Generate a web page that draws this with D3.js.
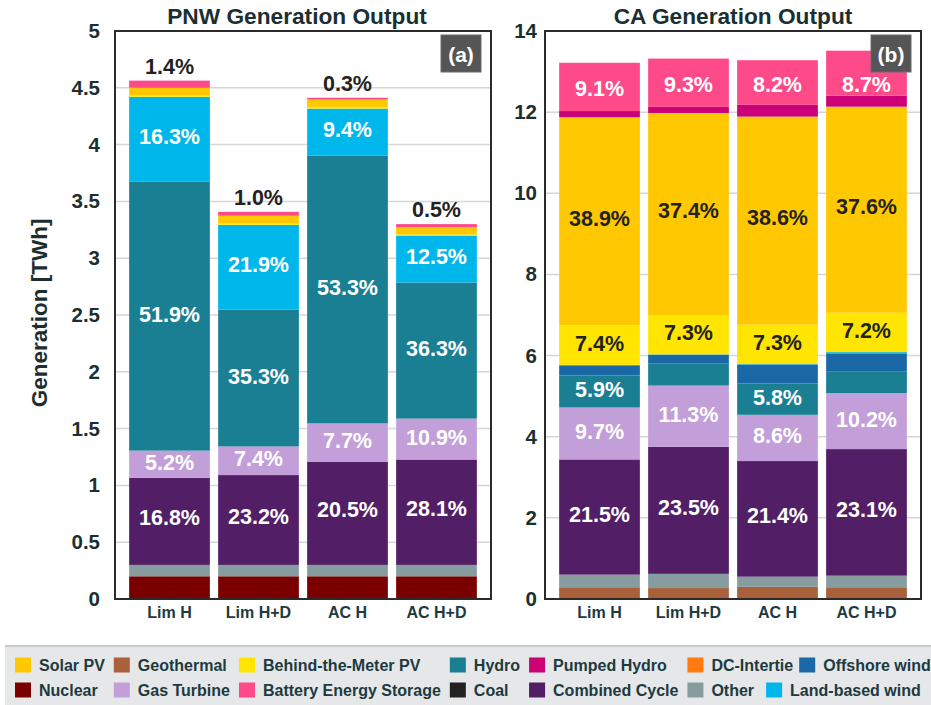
<!DOCTYPE html>
<html><head><meta charset="utf-8">
<script src="https://cdn.jsdelivr.net/npm/d3@7"></script>
<style>
html,body{margin:0;padding:0;background:#fff;}
svg{display:block;font-family:"Liberation Sans",Arial,sans-serif;}
</style></head>
<body>
<svg id="chart" width="931" height="705"></svg>
<script>
// ---------------- DATA ----------------
const categories = ["Lim H", "Lim H+D", "AC H", "AC H+D"];
const seriesNames = ["Nuclear","Geothermal","Other","Coal","Combined Cycle","Gas Turbine","Hydro","DC-Intertie","Offshore wind","Land-based wind","Behind-the-Meter PV","Solar PV","Pumped Hydro","Battery Energy Storage"];

// PNW generation [TWh]
const pnwNuclear        = [0.20, 0.20, 0.20, 0.20];
const pnwOther          = [0.10, 0.10, 0.10, 0.10];
const pnwCombinedCycle  = [0.768, 0.791, 0.906, 0.928];
const pnwGasTurbine     = [0.238, 0.252, 0.340, 0.360];
const pnwHydro          = [2.370, 1.204, 2.356, 1.198];
const pnwLandWind       = [0.745, 0.747, 0.415, 0.413];
const pnwBehindMeterPV  = [0.010, 0.010, 0.010, 0.010];
const pnwSolarPV        = [0.070, 0.070, 0.070, 0.065];
const pnwBattery        = [0.062, 0.034, 0.015, 0.026];

// CA generation [TWh]
const caGeothermal      = [0.29, 0.27, 0.30, 0.29];
const caOther           = [0.31, 0.35, 0.25, 0.285];
const caCombinedCycle   = [2.84, 3.13, 2.85, 3.12];
const caGasTurbine      = [1.28, 1.51, 1.14, 1.38];
const caHydro           = [0.79, 0.54, 0.77, 0.54];
const caOffshoreWind    = [0.25, 0.22, 0.47, 0.44];
const caLandWind        = [0.01, 0.01, 0.01, 0.03];
const caBehindMeterPV   = [0.977, 0.97, 0.97, 0.97];
const caSolarPV         = [5.13, 4.98, 5.13, 5.08];
const caPumpedHydro     = [0.15, 0.15, 0.29, 0.27];
const caBattery         = [1.19, 1.19, 1.10, 1.11];

// Percentage labels
const pnwLabelCombinedCycle = ["16.8%", "23.2%", "20.5%", "28.1%"];
const pnwLabelGasTurbine    = ["5.2%", "7.4%", "7.7%", "10.9%"];
const pnwLabelHydro         = ["51.9%", "35.3%", "53.3%", "36.3%"];
const pnwLabelLandWind      = ["16.3%", "21.9%", "9.4%", "12.5%"];
const pnwLabelBattery       = ["1.4%", "1.0%", "0.3%", "0.5%"];

const caLabelCombinedCycle  = ["21.5%", "23.5%", "21.4%", "23.1%"];
const caLabelGasTurbine     = ["9.7%", "11.3%", "8.6%", "10.2%"];
const caLabelHydro          = ["5.9%", "", "5.8%", ""];
const caLabelBehindMeterPV  = ["7.4%", "7.3%", "7.3%", "7.2%"];
const caLabelSolarPV        = ["38.9%", "37.4%", "38.6%", "37.6%"];
const caLabelBattery        = ["9.1%", "9.3%", "8.2%", "8.7%"];

// Axis ticks
const pnwTicks = [0, 0.5, 1, 1.5, 2, 2.5, 3, 3.5, 4, 4.5, 5];
const pnwTickLabels = ["0", "0.5", "1", "1.5", "2", "2.5", "3", "3.5", "4", "4.5", "5"];
const caTicks = [0, 2, 4, 6, 8, 10, 12, 14];
const caTickLabels = ["0", "2", "4", "6", "8", "10", "12", "14"];

// Legend order (two rows)
const legendRow1 = ["Solar PV","Geothermal","Behind-the-Meter PV","Hydro","Pumped Hydro","DC-Intertie","Offshore wind"];
const legendRow2 = ["Nuclear","Gas Turbine","Battery Energy Storage","Coal","Combined Cycle","Other","Land-based wind"];

// ---------------- STYLE ----------------
const colorMap = {
  "Nuclear": "#7a0000",
  "Geothermal": "#a8613a",
  "Other": "#879c9e",
  "Coal": "#222222",
  "Combined Cycle": "#521f66",
  "Gas Turbine": "#c29fd8",
  "Hydro": "#1b7f93",
  "DC-Intertie": "#ff7b12",
  "Offshore wind": "#1a69a6",
  "Land-based wind": "#00b7ec",
  "Behind-the-Meter PV": "#ffe500",
  "Solar PV": "#ffc800",
  "Pumped Hydro": "#cc0077",
  "Battery Energy Storage": "#ff4a89"
};
const textDark = "#1b2f31";

function buildRows(seriesMap) {
  return categories.map((c, i) => {
    const row = {category: c};
    seriesNames.forEach(s => { row[s] = seriesMap[s] ? seriesMap[s][i] : 0; });
    return row;
  });
}

const pnwRows = buildRows({
  "Nuclear": pnwNuclear, "Other": pnwOther, "Combined Cycle": pnwCombinedCycle,
  "Gas Turbine": pnwGasTurbine, "Hydro": pnwHydro, "Land-based wind": pnwLandWind,
  "Behind-the-Meter PV": pnwBehindMeterPV, "Solar PV": pnwSolarPV,
  "Battery Energy Storage": pnwBattery
});
const caRows = buildRows({
  "Geothermal": caGeothermal, "Other": caOther, "Combined Cycle": caCombinedCycle,
  "Gas Turbine": caGasTurbine, "Hydro": caHydro, "Offshore wind": caOffshoreWind,
  "Land-based wind": caLandWind, "Behind-the-Meter PV": caBehindMeterPV,
  "Solar PV": caSolarPV, "Pumped Hydro": caPumpedHydro,
  "Battery Energy Storage": caBattery
});

const svg = d3.select("#chart");

function drawPanel(opt) {
  const g = svg.append("g");
  const x = d3.scaleBand().domain(categories).range([opt.left, opt.right])
    .paddingInner(0.093).paddingOuter(0.159);
  const y = d3.scaleLinear().domain([0, opt.max]).range([599, 31]);
  const tagBox = {x0: opt.right - 50, x1: opt.right - 10, y0: 35, y1: 72};

  // gridlines
  g.append("g").selectAll("line").data(opt.ticks.filter(t => t > 0 && t < opt.max)).join("line")
    .attr("x1", opt.left).attr("x2", opt.right)
    .attr("y1", d => y(d)).attr("y2", d => y(d))
    .attr("stroke", "#d6d6d6").attr("stroke-width", 1.5);

  // stacks
  const stacked = d3.stack().keys(seriesNames)(opt.rows);
  const layers = g.append("g").selectAll("g").data(stacked).join("g")
    .attr("fill", d => colorMap[d.key]);
  layers.selectAll("rect").data(d => d.map(v => ({v, cat: v.data.category}))).join("rect")
    .attr("x", d => x(d.cat))
    .attr("width", x.bandwidth())
    .attr("y", d => y(d.v[1]))
    .attr("height", d => Math.max(0, y(d.v[0]) - y(d.v[1])));

  // labels
  const byKey = {};
  stacked.forEach(s => byKey[s.key] = s);
  opt.labels.forEach(spec => {
    const s = byKey[spec.series];
    spec.text.forEach((t, i) => {
      if (!t) return;
      const seg = s[i];
      const cx = x(categories[i]) + x.bandwidth() / 2;
      let cy;
      if (spec.above) cy = y(seg[1]) - 14;
      else cy = (y(seg[0]) + y(seg[1])) / 2 + (spec.dy || -1.5);
      // keep label clear of the panel tag box
      const halfW = 30;
      if (cx + halfW > tagBox.x0 && cx - halfW < tagBox.x1 && cy - 8 < tagBox.y1) {
        cy = Math.max(cy, tagBox.y1 + 13);
      }
      g.append("text").attr("x", cx).attr("y", cy)
        .attr("text-anchor", "middle").attr("dominant-baseline", "central")
        .attr("font-size", 21.5).attr("font-weight", "bold")
        .attr("fill", spec.color).text(t);
    });
  });

  // y axis
  const yAxis = d3.axisLeft(y).tickValues(opt.ticks)
    .tickFormat((d, i) => opt.tickLabels[i]).tickSize(0).tickPadding(opt.tickPad);
  const ya = g.append("g").attr("transform", `translate(${opt.left},0)`).call(yAxis);
  ya.select(".domain").remove();
  ya.selectAll("text").attr("font-size", 20.5).attr("font-weight", "bold")
    .attr("fill", textDark).attr("font-family", "Liberation Sans, Arial, sans-serif");

  // x axis
  const xAxis = d3.axisBottom(x).tickSize(0).tickPadding(8);
  const xa = g.append("g").attr("transform", `translate(0,599)`).call(xAxis);
  xa.select(".domain").remove();
  xa.selectAll("text").attr("font-size", 16).attr("font-weight", "bold")
    .attr("fill", "#1c3a3f").attr("font-family", "Liberation Sans, Arial, sans-serif");

  // frame
  g.append("rect").attr("x", opt.left).attr("y", 31)
    .attr("width", opt.right - opt.left).attr("height", 568)
    .attr("fill", "none").attr("stroke", "#2b2b2b").attr("stroke-width", 2);

  // title
  g.append("text").attr("x", opt.titleX).attr("y", 24)
    .attr("text-anchor", "middle").attr("font-size", 22.7).attr("font-weight", "bold")
    .attr("fill", textDark).text(opt.title);

  // tag
  g.append("rect").attr("x", tagBox.x0).attr("y", tagBox.y0)
    .attr("width", tagBox.x1 - tagBox.x0).attr("height", tagBox.y1 - tagBox.y0)
    .attr("fill", "#555555").attr("stroke", "#6a6a6a").attr("stroke-width", 1);
  g.append("text").attr("x", (tagBox.x0 + tagBox.x1) / 2).attr("y", 54)
    .attr("text-anchor", "middle").attr("dominant-baseline", "central")
    .attr("font-size", 21).attr("font-weight", "bold").attr("fill", "#ffffff").text(opt.tag);
}

drawPanel({
  left: 115, right: 491, max: 5, rows: pnwRows,
  ticks: pnwTicks, tickLabels: pnwTickLabels, tickPad: 15,
  title: "PNW Generation Output", titleX: 297, tag: "(a)",
  labels: [
    {series: "Combined Cycle", text: pnwLabelCombinedCycle, color: "#ffffff", dy: -3},
    {series: "Gas Turbine", text: pnwLabelGasTurbine, color: "#ffffff"},
    {series: "Hydro", text: pnwLabelHydro, color: "#ffffff"},
    {series: "Land-based wind", text: pnwLabelLandWind, color: "#ffffff", dy: -2.5},
    {series: "Battery Energy Storage", text: pnwLabelBattery, color: "#222222", above: true}
  ]
});

drawPanel({
  left: 545, right: 921, max: 14, rows: caRows,
  ticks: caTicks, tickLabels: caTickLabels, tickPad: 8,
  title: "CA Generation Output", titleX: 733, tag: "(b)",
  labels: [
    {series: "Combined Cycle", text: caLabelCombinedCycle, color: "#ffffff", dy: -2.5},
    {series: "Gas Turbine", text: caLabelGasTurbine, color: "#ffffff"},
    {series: "Hydro", text: caLabelHydro, color: "#ffffff", dy: 0},
    {series: "Behind-the-Meter PV", text: caLabelBehindMeterPV, color: "#222222", dy: 0},
    {series: "Solar PV", text: caLabelSolarPV, color: "#222222", dy: -2.5},
    {series: "Battery Energy Storage", text: caLabelBattery, color: "#ffffff", dy: 2}
  ]
});

// y-axis title
svg.append("text").attr("transform", "translate(39,313) rotate(-90)")
  .attr("text-anchor", "middle").attr("dominant-baseline", "central")
  .attr("font-size", 22.5).attr("font-weight", "bold").attr("fill", textDark)
  .text("Generation [TWh]");

// ---------------- LEGEND ----------------
const lg = svg.append("g");
lg.append("rect").attr("x", 5).attr("y", 645).attr("width", 930).attr("height", 62)
  .attr("fill", "#c9c9c9");
lg.append("rect").attr("x", 5).attr("y", 647).attr("width", 930).attr("height", 60)
  .attr("fill", "#e6e7e8");

const rowsY = [657.5, 682.5];
const rowsLegend = [legendRow1, legendRow2];
const lastGap = [6, 12];
const measure = svg.append("text").attr("font-size", 16).attr("font-weight", "bold");
function textW(s) { measure.text(s); return measure.node().getComputedTextLength(); }
const nCols = legendRow1.length;
const colX = [15];
for (let c = 0; c < nCols - 2; c++) {
  const w = Math.max(textW(legendRow1[c]), textW(legendRow2[c]));
  colX.push(colX[c] + 24 + w + 9);
}
measure.remove();

rowsLegend.forEach((row, r) => {
  let lastEnd = 0;
  row.forEach((name, c) => {
    const sx = (c < nCols - 1) ? colX[c] : lastEnd + lastGap[r];
    lg.append("rect").attr("x", sx).attr("y", rowsY[r]).attr("width", 16).attr("height", 15)
      .attr("fill", colorMap[name]);
    const t = lg.append("text").attr("x", sx + 24).attr("y", rowsY[r] + 13)
      .attr("font-size", 16).attr("font-weight", "bold").attr("fill", "#1c3a3f").text(name);
    lastEnd = sx + 24 + t.node().getComputedTextLength();
  });
});
</script>
</body></html>
